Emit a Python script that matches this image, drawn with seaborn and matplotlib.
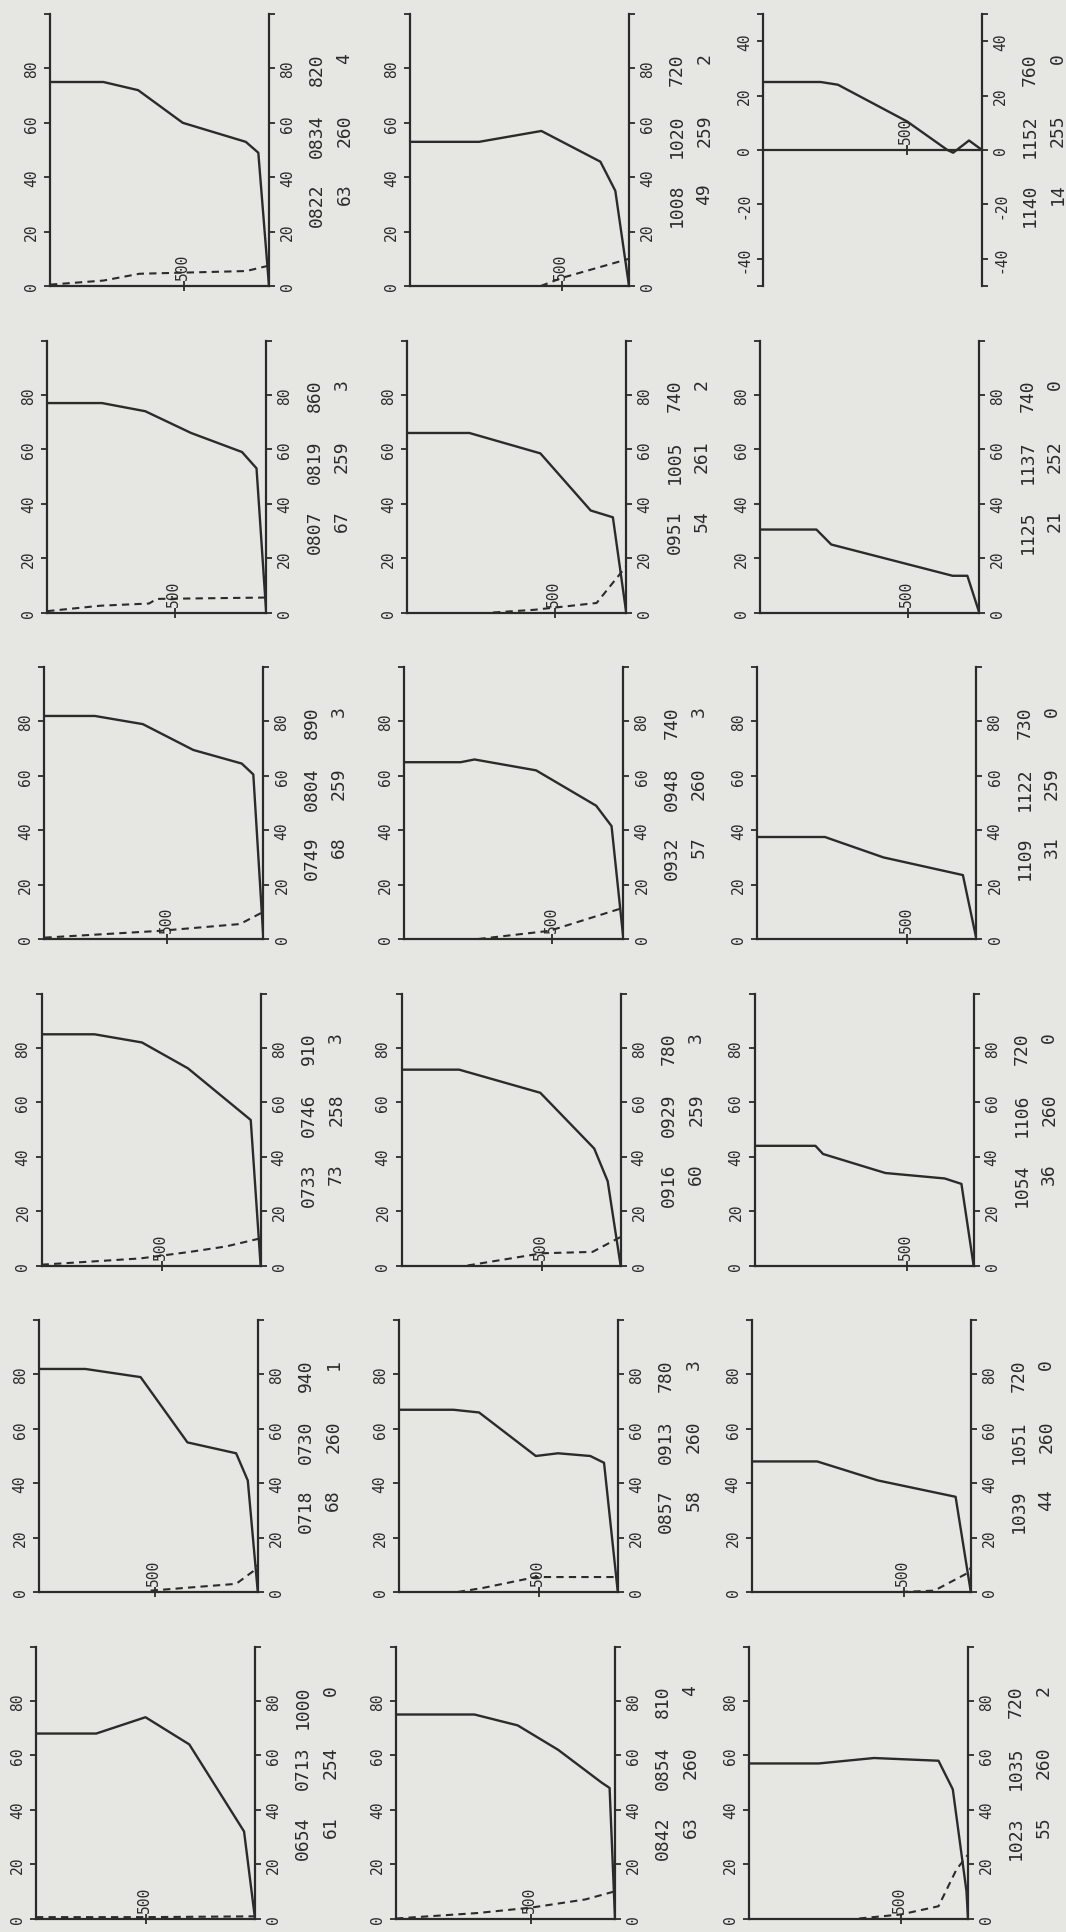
import matplotlib
matplotlib.use("Agg")
import matplotlib.pyplot as plt
import pandas as pd
import seaborn as sns

## DATA (runs in time order, 0654 first)
start_time = ['0654', '0718', '0733', '0749', '0807', '0822',
              '0842', '0857', '0916', '0932', '0951', '1008',
              '1023', '1039', '1054', '1109', '1125', '1140']
end_time = ['0713', '0730', '0746', '0804', '0819', '0834',
            '0854', '0913', '0929', '0948', '1005', '1020',
            '1035', '1051', '1106', '1122', '1137', '1152']
depth_max = [1000, 940, 910, 890, 860, 820,
             810, 780, 780, 740, 740, 720,
             720, 720, 720, 730, 740, 760]
count_a = [61, 68, 73, 68, 67, 63, 63, 58, 60, 57, 54, 49, 55, 44, 36, 31, 21, 14]
count_b = [254, 260, 258, 259, 259, 260, 260, 260, 259, 260, 261, 259, 260, 260, 260, 259, 252, 255]
count_c = [0, 1, 3, 3, 3, 4, 4, 3, 3, 3, 2, 2, 2, 0, 0, 0, 0, 0]

# (depth, value) pairs
p0654_solid = [(0, 68), (275, 68), (500, 74), (700, 64), (950, 32), (1000, 0)]
p0654_dash = [(0, 0.5), (500, 0.5), (1000, 0.8)]
p0718_solid = [(0, 82), (200, 82), (437, 79), (638, 55), (847, 51), (897, 41), (940, 0)]
p0718_dash = [(480, 0.5), (847, 3), (918, 7.5), (940, 10)]
p0733_solid = [(0, 85), (220, 85), (417, 82), (608, 72.5), (869, 53.5), (910, 0)]
p0733_dash = [(0, 0.3), (410, 2.6), (616, 5), (766, 7), (910, 10)]
p0749_solid = [(0, 82), (205, 82), (400, 79), (605, 69.5), (802, 64.5), (849, 60.5), (890, 0)]
p0749_dash = [(0, 0.5), (470, 3), (795, 5.5), (890, 10)]
p0807_solid = [(0, 77), (215, 77), (385, 74), (565, 66), (765, 59), (822, 53), (860, 0)]
p0807_dash = [(0, 0.5), (210, 2.5), (400, 3.3), (430, 5), (860, 5.5)]
p0822_solid = [(0, 75), (200, 75), (330, 72), (497, 60), (733, 53), (780, 49), (820, 0)]
p0822_dash = [(0, 0.5), (200, 2), (335, 4.5), (735, 5.5), (820, 7.5)]
p0842_solid = [(0, 75), (290, 75), (450, 71), (600, 62), (760, 50), (790, 48), (810, 0)]
p0842_dash = [(0, 0), (300, 2), (500, 4), (700, 7), (810, 10)]
p0857_solid = [(0, 67), (195, 67), (286, 66), (488, 50), (567, 51), (682, 50), (731, 47.5), (780, 0)]
p0857_dash = [(210, 0), (300, 1.5), (488, 5.5), (780, 5.5)]
p0916_solid = [(0, 72), (205, 72), (494, 63.5), (686, 43), (734, 31), (780, 0)]
p0916_dash = [(235, 0), (500, 4.5), (680, 5), (780, 10.5)]
p0932_solid = [(0, 65), (190, 65), (237, 66), (445, 62), (648, 49), (700, 41.5), (740, 0)]
p0932_dash = [(250, 0), (490, 3), (740, 11.5)]
p0951_solid = [(0, 66), (210, 66), (450, 58.5), (620, 37.5), (695, 35), (740, 0)]
p0951_dash = [(290, 0), (430, 1), (640, 3.5), (740, 17)]
p1008_solid = [(0, 53), (227, 53), (432, 57), (626, 45.7), (675, 35), (720, 0)]
p1008_dash = [(430, 0), (500, 3), (720, 10)]
p1023_solid = [(0, 57), (229, 57), (411, 59), (623, 58), (670, 47.5), (715, 10), (720, 0)]
p1023_dash = [(362, 0), (500, 1.5), (623, 4.5), (682, 18), (720, 23.5)]
p1039_solid = [(0, 48), (215, 48), (415, 41), (670, 35), (720, 0)]
p1039_dash = [(490, 0), (600, 0.5), (710, 7), (720, 9)]
p1054_solid = [(0, 44), (200, 44), (225, 41), (430, 34), (625, 32), (680, 30), (720, 0)]
p1054_dash = []
p1109_solid = [(0, 37.5), (225, 37.5), (420, 30), (685, 23.5), (730, 0)]
p1109_dash = []
p1125_solid = [(0, 30.5), (190, 30.5), (240, 25), (650, 13.5), (700, 13.5), (740, 0)]
p1125_dash = []
p1140_solid = [(0, 25), (200, 25), (260, 24), (500, 10.5), (640, 0), (660, -1), (715, 3.5), (760, 0)]
p1140_dash = []

solid_curves = [p0654_solid, p0718_solid, p0733_solid, p0749_solid, p0807_solid, p0822_solid,
                p0842_solid, p0857_solid, p0916_solid, p0932_solid, p0951_solid, p1008_solid,
                p1023_solid, p1039_solid, p1054_solid, p1109_solid, p1125_solid, p1140_solid]
dash_curves = [p0654_dash, p0718_dash, p0733_dash, p0749_dash, p0807_dash, p0822_dash,
               p0842_dash, p0857_dash, p0916_dash, p0932_dash, p0951_dash, p1008_dash,
               p1023_dash, p1039_dash, p1054_dash, p1109_dash, p1125_dash, p1140_dash]

## STYLE
sns.set_style('ticks')
plt.rcParams['font.family'] = ['DejaVu Sans Mono', 'DejaVu Sans']
paper = '#e6e7e3'
ink = '#2b2b2b'

W, H = 1066, 1933
fig = plt.figure(figsize=(W / 100, H / 100), dpi=100)
fig.patch.set_facecolor(paper)

col_left = [50, 410, 763]
panel_w, panel_h = 219, 272
row_top, row_pitch = 15, 326.5
skew = -2.8  # scan is slightly tilted

for k in range(18):
    col = k // 6
    row = 5 - k % 6
    left = col_left[col] + skew * row
    top = row_top + row * row_pitch
    ax = fig.add_axes([left / W, 1 - (top + panel_h) / H, panel_w / W, panel_h / H])
    ax.set_facecolor('none')

    N = depth_max[k]
    if start_time[k] == '1140':
        ylo, yhi = -50, 50
        yt = [-50, -40, -20, 0, 20, 40, 50]
        ylab = ['', '-40', '-20', '0', '20', '40', '']
    else:
        ylo, yhi = 0, 100
        yt = [0, 20, 40, 60, 80, 100]
        ylab = ['0', '20', '40', '60', '80', '']

    sdf = pd.DataFrame(solid_curves[k], columns=['depth', 'value'])
    sns.lineplot(data=sdf, x='depth', y='value', ax=ax, color=ink, lw=1.7,
                 sort=False, estimator=None)
    if dash_curves[k]:
        ddf = pd.DataFrame(dash_curves[k], columns=['depth', 'value'])
        sns.lineplot(data=ddf, x='depth', y='value', ax=ax, color=ink, lw=1.5,
                     sort=False, estimator=None, linestyle=(0, (3.5, 2.5)))

    ax.set_xlim(0, N)
    ax.set_ylim(ylo, yhi)
    ax.set_xlabel('')
    ax.set_ylabel('')
    ax.spines['top'].set_visible(False)
    for s in ['left', 'right', 'bottom']:
        ax.spines[s].set_linewidth(1.6)
        ax.spines[s].set_color(ink)
    ax.spines['bottom'].set_position(('data', 0))

    ax.set_xticks([500])
    ax.set_xticklabels([''])
    ax.tick_params(axis='x', direction='inout', length=7, width=1.3, color=ink)
    ax.set_yticks(yt)
    ax.set_yticklabels(ylab)
    ax.tick_params(axis='y', left=True, right=True, labelleft=True, labelright=True,
                   direction='out', length=4, width=1.3, color=ink,
                   labelrotation=90, labelsize=10.5, labelcolor=ink, pad=4)
    for lab in ax.get_yticklabels():
        lab.set_va('center')

    ax.annotate('500', xy=(500, 0), xytext=(-1, 5), textcoords='offset points',
                rotation=90, ha='center', va='bottom', fontsize=10.5, color=ink)

    # run header printed beside the panel
    line1 = [start_time[k], end_time[k], str(N)]
    line2 = [str(count_a[k]), str(count_b[k]), str(count_c[k])]
    ends = [0.38, 0.635, 0.86]
    for j in range(3):
        ax.text(1.22, ends[j], line1[j], transform=ax.transAxes, rotation=90,
                ha='center', va='top', fontsize=13, color=ink)
        ax.text(1.345, ends[j], line2[j], transform=ax.transAxes, rotation=90,
                ha='center', va='top', fontsize=13, color=ink)

fig.savefig('out.png', dpi=100, facecolor=paper)
